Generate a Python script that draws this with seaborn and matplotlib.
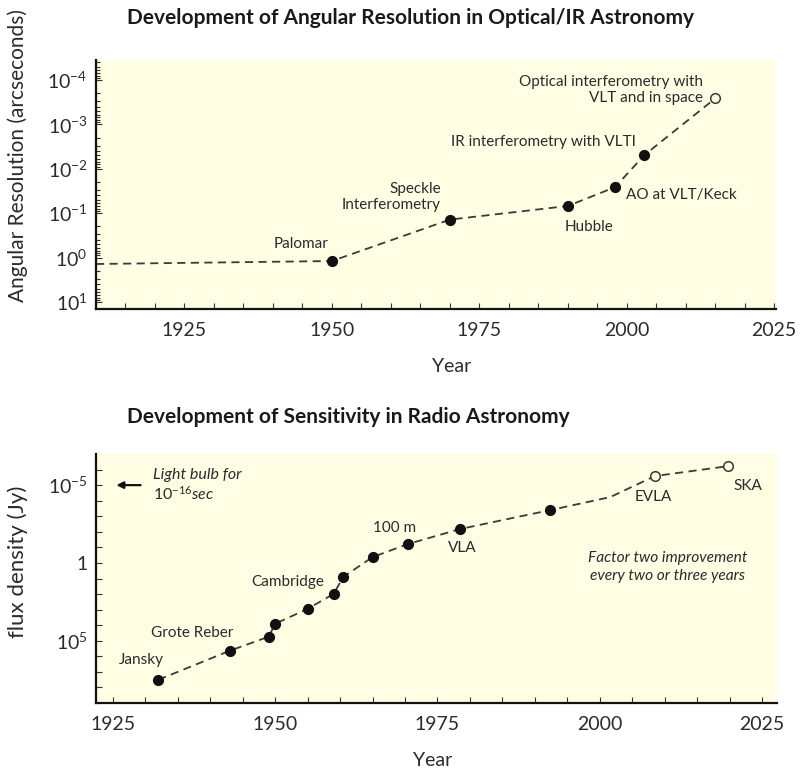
import numpy as np
import pandas as pd
import seaborn as sns
import matplotlib.pyplot as plt
from matplotlib.ticker import FixedLocator, NullFormatter, LogLocator, MultipleLocator

# ---- data: optical / IR angular resolution ----
opt_years = [1910, 1950, 1970, 1990, 1998, 2003, 2015]
opt_res = [1.4, 1.2, 0.14, 0.069, 0.026, 0.0049, 0.00026]
opt_kind = ['none', 'filled', 'filled', 'filled', 'filled', 'filled', 'open']
opt_labels = ['', 'Palomar', 'Speckle\nInterferometry', 'Hubble', 'AO at VLT/Keck',
              'IR interferometry with VLTI', 'Optical interferometry with\nVLT and in space']

# ---- data: radio sensitivity ----
radio_years = [1932, 1943, 1949, 1950, 1955, 1959, 1960.5, 1965, 1970.5, 1978.5,
               1992.4, 2001.6, 2008.5, 2019.8]
radio_flux = [3.2e7, 4.4e5, 5.5e4, 8.1e3, 890, 98, 7.9, 0.42, 0.06, 6.6e-3,
              4.0e-4, 5.9e-5, 2.6e-6, 6.0e-7]
radio_kind = ['filled'] * 11 + ['none', 'open', 'open']
radio_labels = ['Jansky', 'Grote Reber', '', '', '', 'Cambridge', '', '', '100 m', 'VLA',
                '', '', 'EVLA', 'SKA']

year_ticks = [1925, 1950, 1975, 2000, 2025]

# label offsets in points from the marker: (dx, dy, ha)
label_pos = {
    'Palomar': (-22, 12, 'center'),
    'Speckle\nInterferometry': (-6.5, 16, 'right'),
    'Hubble': (15, -15, 'center'),
    'AO at VLT/Keck': (8, -6, 'left'),
    'IR interferometry with VLTI': (-6, 9, 'right'),
    'Optical interferometry with\nVLT and in space': (-9, 6, 'right'),
    'Jansky': (-12, 14, 'center'),
    'Grote Reber': (-27, 13, 'center'),
    'Cambridge': (-6.5, 8.6, 'right'),
    '100 m': (-10, 11.5, 'center'),
    'VLA': (1.5, -14, 'center'),
    'EVLA': (-1.5, -15, 'center'),
    'SKA': (14, -14, 'center'),
}

sns.set_theme(style='white')
plt.rcParams['font.family'] = ['Lato', 'DejaVu Sans']
plt.rcParams['mathtext.fontset'] = 'custom'
plt.rcParams['mathtext.rm'] = 'Lato'
plt.rcParams['mathtext.it'] = 'Lato:italic'
plt.rcParams['mathtext.bf'] = 'Lato:bold'

bg = '#fffde4'
ink = '#2b2b2b'
line_col = '#3a3a3a'

W, H = 801, 771
fig = plt.figure(figsize=(W / 100, H / 100), dpi=100)
ax1 = fig.add_axes([96 / W, 1 - 309 / H, 680 / W, 249 / H])
ax2 = fig.add_axes([96 / W, 1 - 703 / H, 681 / W, 249 / H])


def draw_panel(ax, years, vals, kinds, labels):
    df = pd.DataFrame({'year': years, 'val': vals, 'kind': kinds, 'label': labels})
    ax.set_facecolor(bg)
    ax.set_yscale('log')
    sns.lineplot(data=df, x='year', y='val', ax=ax, color=line_col, lw=1.3,
                 linestyle=(0, (4.5, 3)), sort=False, estimator=None)
    filled = df[df['kind'] == 'filled']
    sns.scatterplot(data=filled, x='year', y='val', ax=ax, s=65, color='#111111',
                    edgecolor='#111111', linewidth=0, zorder=3)
    hollow = df[df['kind'] == 'open']
    sns.scatterplot(data=hollow, x='year', y='val', ax=ax, s=48, facecolor=bg,
                    edgecolor=line_col, linewidth=1.1, zorder=3)
    for _, r in df.iterrows():
        if r['label'] == '':
            continue
        dx, dy, ha = label_pos[r['label']]
        ax.annotate(r['label'], (r['year'], r['val']), xytext=(dx, dy),
                    textcoords='offset points', ha=ha, va='center',
                    multialignment=ha if ha != 'center' else 'center',
                    fontsize=11, color=ink)

    for side in ['top', 'right']:
        ax.spines[side].set_visible(False)
    for side in ['left', 'bottom']:
        ax.spines[side].set_linewidth(1.6)
        ax.spines[side].set_color('#111111')
    ax.set_xlabel('')
    ax.set_ylabel('')
    ax.xaxis.set_major_locator(FixedLocator(year_ticks))
    ax.xaxis.set_minor_locator(MultipleLocator(5))
    ax.tick_params(axis='both', which='both', direction='in', colors='#333333',
                   labelcolor=ink, labelsize=14, width=0.8, bottom=True, left=True)
    ax.tick_params(axis='x', which='both', length=4, pad=9)
    ax.tick_params(axis='y', which='major', length=4, pad=6)
    ax.tick_params(axis='y', which='minor', length=3)


# 1. angular resolution panel
draw_panel(ax1, opt_years, opt_res, opt_kind, opt_labels)
ax1.set_xlim(1910, 2025.3)
ax1.set_ylim(10 ** 1.16, 10 ** -4.45)
ax1.yaxis.set_major_locator(LogLocator(base=10, numticks=20))
ax1.yaxis.set_minor_locator(LogLocator(base=10, subs=np.arange(2, 10), numticks=20))
ax1.yaxis.set_minor_formatter(NullFormatter())

# 2. radio sensitivity panel
draw_panel(ax2, radio_years, radio_flux, radio_kind, radio_labels)
ax2.set_xlim(1922.4, 2027.3)
ax2.set_ylim(1e9, 1e-7)
ax2.yaxis.set_major_locator(FixedLocator([1e-5, 1, 1e5]))
ax2.set_yticklabels(['$10^{-5}$', '1', '$10^{5}$'])
ax2.yaxis.set_minor_locator(FixedLocator([10.0 ** k for k in range(-6, 9) if k not in (-5, 0, 5)]))
ax2.yaxis.set_minor_formatter(NullFormatter())
ax2.tick_params(axis='y', which='minor', length=4)

# light bulb arrow and notes
ax2.annotate('', xy=(1925.1, 1e-5), xytext=(1929.7, 1e-5),
             arrowprops=dict(arrowstyle='-|>', color='#111111', lw=1.6, mutation_scale=10))
ax2.text(1931.2, 1e-5, 'Light bulb for\n$\\mathit{10^{-16}}$sec', ha='left', va='center',
         fontsize=11.5, style='italic', color=ink, linespacing=1.2)
ax2.text(0.84, 0.546, 'Factor two improvement\nevery two or three years', transform=ax2.transAxes,
         ha='center', va='center', fontsize=11.2, style='italic', color=ink, linespacing=1.3)

# titles and axis labels
fig.text(127 / W, 1 - 18 / H, 'Development of Angular Resolution in Optical/IR Astronomy',
         ha='left', va='center', fontsize=15, fontweight='bold', color='#1a1a1a')
fig.text(127 / W, 1 - 417 / H, 'Development of Sensitivity in Radio Astronomy',
         ha='left', va='center', fontsize=15, fontweight='bold', color='#1a1a1a')
fig.text(18 / W, 1 - 156 / H, 'Angular Resolution (arcseconds)', rotation=90,
         ha='center', va='center', fontsize=15, color=ink)
fig.text(18 / W, 1 - 562 / H, 'flux density (Jy)', rotation=90,
         ha='center', va='center', fontsize=16, color=ink)
fig.text(452 / W, 1 - 366 / H, 'Year', ha='center', va='center', fontsize=14, color=ink)
fig.text(433 / W, 1 - 760 / H, 'Year', ha='center', va='center', fontsize=14, color=ink)

fig.savefig('out.png', dpi=100, facecolor='white')
plt.close(fig)
